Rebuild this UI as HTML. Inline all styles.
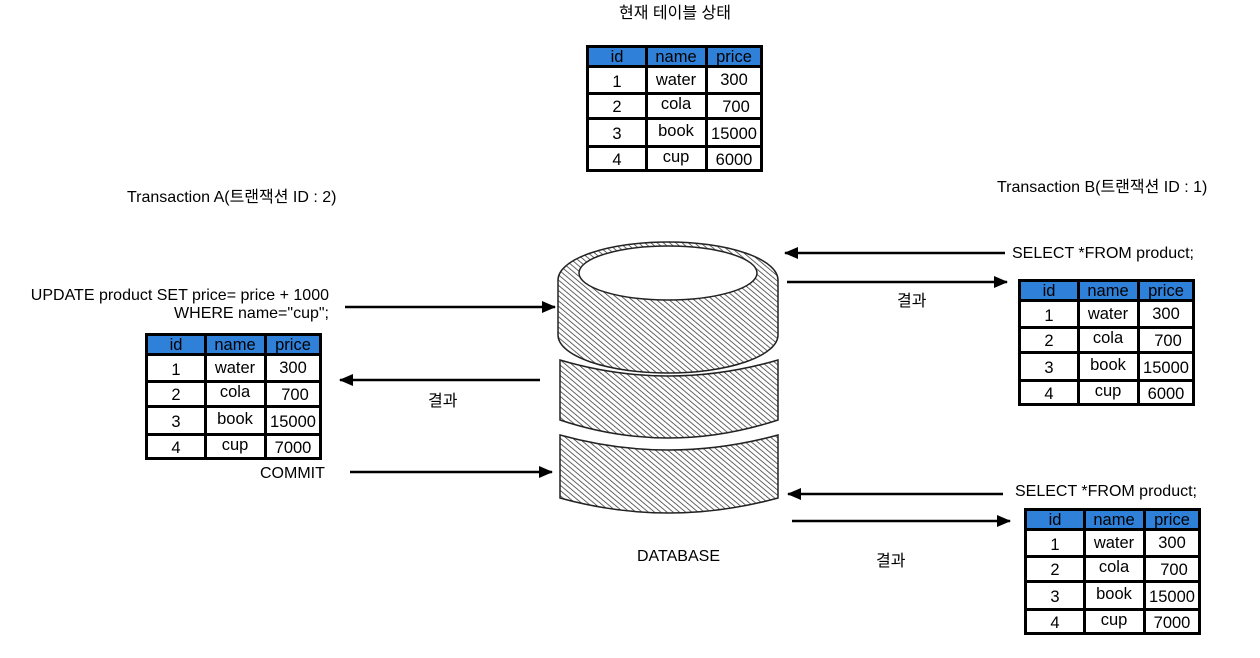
<!DOCTYPE html><html><head><meta charset="utf-8"><style>body{margin:0;background:#fff}svg{display:block}text{font-family:"Liberation Sans","Noto Sans CJK KR",sans-serif;fill:#000}</style></head><body>
<svg width="1260" height="658" viewBox="0 0 1260 658" xmlns="http://www.w3.org/2000/svg">
<defs>
<pattern id="h" width="4" height="4" patternUnits="userSpaceOnUse" patternTransform="rotate(-50)"><rect width="4" height="4" fill="#fff"/><line x1="0" y1="0" x2="0" y2="4" stroke="#333" stroke-width="1.5"/></pattern>
<marker id="a" markerWidth="14" markerHeight="12" refX="13" refY="6" orient="auto" markerUnits="userSpaceOnUse"><path d="M0,0 L14,6 L0,12 z" fill="#000"/></marker>
<g id="tb">
<rect x="0" y="0" width="177" height="127" fill="#000"/>
<rect x="3" y="3" width="56" height="17" fill="#2f80d9"/><rect x="62" y="3" width="57" height="17" fill="#2f80d9"/><rect x="122" y="3" width="52" height="17" fill="#2f80d9"/>
<g fill="#fff">
<rect x="3" y="23" width="56" height="24"/><rect x="62" y="23" width="57" height="24"/><rect x="122" y="23" width="52" height="24"/>
<rect x="3" y="50" width="56" height="22"/><rect x="62" y="50" width="57" height="22"/><rect x="122" y="50" width="52" height="22"/>
<rect x="3" y="75" width="56" height="25"/><rect x="62" y="75" width="57" height="25"/><rect x="122" y="75" width="52" height="25"/>
<rect x="3" y="103" width="56" height="21"/><rect x="62" y="103" width="57" height="21"/><rect x="122" y="103" width="52" height="21"/>
</g>
<g font-size="16.5" text-anchor="middle">
<text x="31" y="17">id</text><text x="90" y="17">name</text><text x="148" y="17">price</text>
<text x="31" y="42">1</text><text x="90" y="40">water</text><text x="148" y="40">300</text>
<text x="31" y="67">2</text><text x="90" y="64">cola</text><text x="150" y="67">700</text>
<text x="31" y="94">3</text><text x="90" y="91">book</text><text x="148" y="94">15000</text>
<text x="31" y="120">4</text><text x="90" y="117">cup</text>
</g>
</g>
</defs>
<g font-size="16">
<text x="675" y="18" text-anchor="middle">현재 테이블 상태</text>
<text x="127" y="202">Transaction A(트랜잭션 ID : 2)</text>
<text x="997" y="192">Transaction B(트랜잭션 ID : 1)</text>
<text x="329" y="300" text-anchor="end">UPDATE product SET price= price + 1000</text>
<text x="329" y="318" text-anchor="end">WHERE name="cup";</text>
<text x="428" y="406">결과</text>
<text x="260" y="478">COMMIT</text>
<text x="637" y="561">DATABASE</text>
<text x="1012" y="258">SELECT *FROM product;</text>
<text x="897" y="306">결과</text>
<text x="1015" y="496">SELECT *FROM product;</text>
<text x="876" y="566">결과</text>
</g>
<use href="#tb" x="586" y="45"/><text x="734" y="165" font-size="16.5" text-anchor="middle">6000</text>
<use href="#tb" x="145" y="333"/><text x="293" y="453" font-size="16.5" text-anchor="middle">7000</text>
<use href="#tb" x="1018" y="279"/><text x="1166" y="399" font-size="16.5" text-anchor="middle">6000</text>
<use href="#tb" x="1024" y="508"/><text x="1172" y="628" font-size="16.5" text-anchor="middle">7000</text>
<g stroke="#000" stroke-width="2.5" fill="none" marker-end="url(#a)">
<line x1="345" y1="307" x2="555" y2="307"/>
<line x1="540" y1="380" x2="340" y2="380"/>
<line x1="350" y1="472" x2="552" y2="472"/>
<line x1="1005" y1="253" x2="785" y2="253"/>
<line x1="787" y1="282" x2="1007" y2="282"/>
<line x1="1003" y1="494" x2="788" y2="494"/>
<line x1="792" y1="521" x2="1010" y2="521"/>
</g>
<g stroke="#222" stroke-width="1.5" fill="url(#h)">
<path d="M558,280 A110,38 0 0 1 778,280 L778,335 A110,38 0 0 1 558,335 Z"/>
<path d="M560,360 Q668,392 778,360 L778,420 Q668,456 560,420 Z"/>
<path d="M560,435 Q668,465 778,435 L778,498 Q668,528 560,498 Z"/>
</g>
<ellipse cx="668" cy="273" rx="89" ry="27" fill="#fff" stroke="#222" stroke-width="1.5"/>
</svg>
</body></html>
